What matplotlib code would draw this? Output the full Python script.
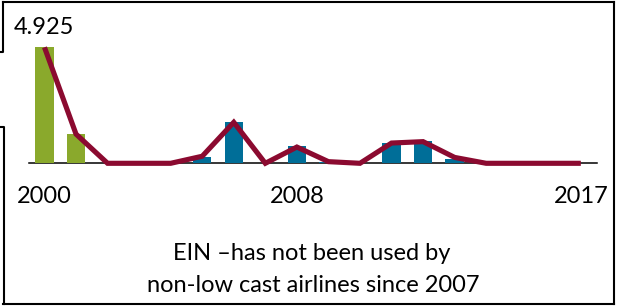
import numpy as np
import matplotlib.pyplot as plt

plt.rcParams['font.family'] = ['Lato', 'DejaVu Sans']

years = list(range(2000, 2018))
green_years = [2000, 2001]
green_values = [4.925, 1.24]
blue_years = [2005, 2006, 2008, 2009, 2011, 2012, 2013]
blue_values = [0.25, 1.74, 0.73, 0.06, 0.87, 0.95, 0.18]
line_values = [4.925, 1.24, 0, 0, 0, 0.30, 1.74, 0, 0.69, 0.07, 0, 0.86, 0.92, 0.25, 0, 0, 0, 0]
tick_years = [2000, 2008, 2017]
peak_label = "4.925"
note_lines = ["EIN \u2013has not been used by", "non-low cast airlines since 2007"]

W, H = 618, 306
fig = plt.figure(figsize=(W / 100, H / 100), dpi=100)

# chart area in pixel terms: baseline at y=163.3, peak value at y=47.3
x0, x1 = 28.7, 596.6
yb, yt = 163.3, 47.3
ax = fig.add_axes([x0 / W, 1 - yb / H, (x1 - x0) / W, (yb - yt) / H])

green = "#8aa92c"
blue = "#006e98"
red = "#8b0a30"

ax.bar(green_years, green_values, width=0.58, color=green, zorder=2)
ax.bar(blue_years, blue_values, width=0.58, color=blue, zorder=2)
ax.plot(years, line_values, color=red, lw=3.7, solid_joinstyle="miter",
        solid_capstyle="butt", zorder=3, clip_on=False)

ax.set_xlim(1999.5, 2017.5)
ax.set_ylim(0, 4.925)
for s in ["top", "right", "left"]:
    ax.spines[s].set_visible(False)
ax.spines["bottom"].set_linewidth(1.1)
ax.spines["bottom"].set_zorder(1)
ax.set_yticks([])
ax.set_xticks(tick_years)
ax.set_xticklabels([str(y) for y in tick_years], fontsize=17)
ax.tick_params(axis="x", length=0, pad=16.5)

fig.text(43.5 / W, 1 - 28 / H, peak_label, ha="center", va="center", fontsize=17)
fig.text(312 / W, 1 - 260 / H, note_lines[0], ha="center", va="baseline", fontsize=17)
fig.text(313 / W, 1 - 292 / H, note_lines[1], ha="center", va="baseline", fontsize=17)

# outer frame, drawn in pixel coordinates
frame = fig.add_axes([0, 0, 1, 1], zorder=-1)
frame.set_xlim(0, W)
frame.set_ylim(H, 0)
frame.axis("off")
kw = dict(color="black", lw=1.5, solid_capstyle="projecting")
frame.plot([3, 614], [1.5, 1.5], **kw)
frame.plot([614, 614], [1.5, 304], **kw)
frame.plot([3, 614], [304, 304], **kw)
frame.plot([0, 3, 3], [52, 52, 1.5], **kw)
frame.plot([0, 4, 4], [127, 127, 304], **kw)

fig.savefig("out.png", dpi=100)
